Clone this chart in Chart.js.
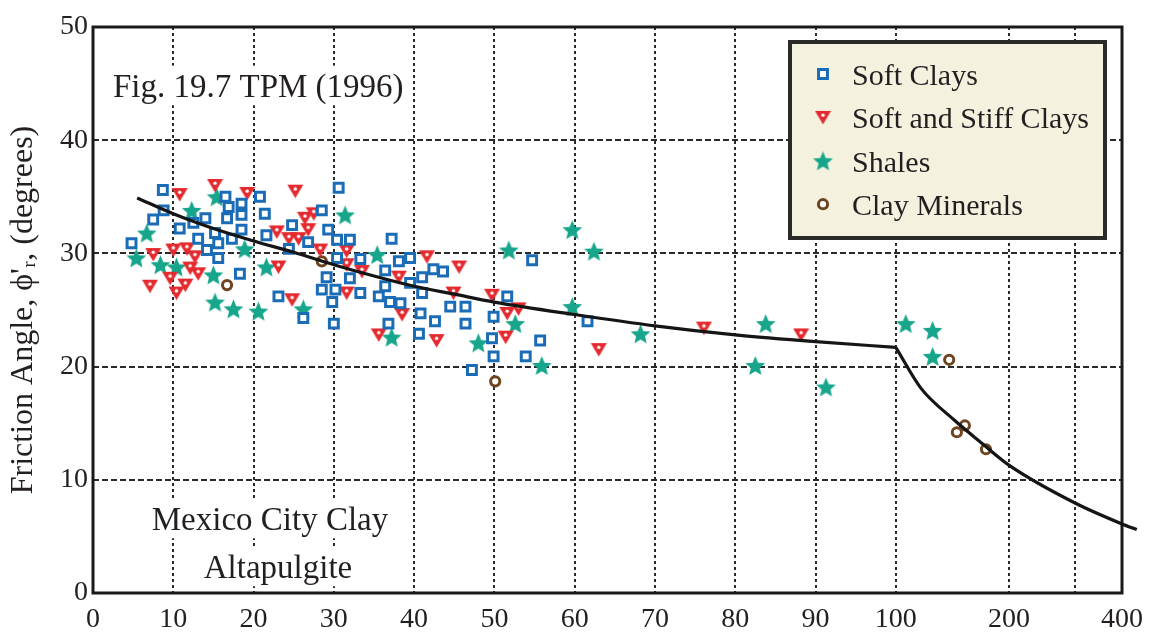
<!DOCTYPE html>
<html>
<head>
<meta charset="utf-8">
<script src="https://cdn.jsdelivr.net/npm/chart.js@4.4.0/dist/chart.umd.min.js"></script>
<style>
  html, body { margin: 0; padding: 0; background: #fff; }
</style>
</head>
<body>
<canvas id="theChart" width="1155" height="632"></canvas>
<script>
// --- data ---
const softClaysX = [8.7, 8.8, 7.5, 4.8, 10.8, 12.5, 14.0, 16.5, 16.9, 16.7, 15.2, 13.1, 15.6, 14.2, 15.6, 17.3,
  18.5, 18.5, 18.5, 20.8, 21.4, 21.6, 18.3, 24.8, 24.4, 26.8, 23.1, 26.2, 28.5, 30.6, 29.3, 30.4, 32.0, 30.4,
  29.1, 28.5, 30.2, 29.8, 30.0, 32.0, 33.3, 33.3, 37.2, 36.4, 38.1, 36.4, 35.6, 37.0, 38.3, 36.8, 39.5, 39.5,
  41.0, 41.0, 42.4, 43.6, 40.8, 40.6, 42.6, 44.5, 46.4, 46.4, 47.2, 54.7, 51.6, 49.9, 49.7, 49.9, 55.7, 53.9, 61.6]
const softClaysY = [35.6, 33.8, 33.0, 30.9, 32.2, 32.7, 33.1, 35.0, 34.1, 33.1, 31.8, 31.3, 30.9, 30.3, 29.6, 31.3,
  34.4, 33.4, 32.1, 35.0, 33.5, 31.6, 28.2, 32.5, 30.4, 31.0, 26.2, 24.3, 33.8, 35.8, 32.1, 31.2, 31.2, 29.6,
  27.9, 26.8, 26.8, 25.7, 23.8, 27.8, 29.5, 26.5, 31.3, 28.5, 29.3, 27.1, 26.2, 25.7, 25.6, 23.8, 29.6, 27.4,
  27.9, 26.5, 28.6, 28.4, 24.7, 22.9, 24.0, 25.3, 25.3, 23.8, 19.7, 29.4, 26.2, 24.4, 22.5, 20.9, 22.3, 20.9, 24.0]

const stiffClaysX = [7.1, 7.5, 10.8, 15.2, 10.0, 11.7, 12.7, 9.6, 11.5, 10.4, 12.1, 13.1, 19.2, 25.2, 22.9, 24.4,
  25.6, 26.4, 27.5, 26.8, 23.1, 24.8, 28.3, 31.6, 31.6, 31.6, 33.5, 38.1, 38.5, 35.6, 41.6, 45.6, 44.9, 42.8,
  49.7, 51.6, 53.0, 51.4, 63.0, 76.1, 88.2]
const stiffClaysY = [27.1, 29.9, 35.2, 36.0, 30.3, 30.4, 29.7, 27.8, 27.2, 26.5, 28.7, 28.2, 35.3, 35.5, 31.9, 31.3,
  31.3, 33.1, 33.5, 32.1, 28.8, 25.9, 30.3, 30.2, 29.0, 26.5, 28.4, 27.9, 24.6, 22.8, 29.7, 28.8, 26.5, 22.3,
  26.3, 24.7, 25.1, 22.6, 21.5, 23.4, 22.8]

const shalesX = [5.4, 6.7, 8.4, 10.4, 12.3, 15.4, 15.0, 15.2, 17.5, 20.6, 18.9, 21.6, 26.2, 31.4, 35.4, 37.2,
  51.8, 48.0, 52.6, 55.9, 59.7, 59.7, 62.4, 68.2, 83.8, 82.5, 91.3, 106.3, 125.3, 125.3]
const shalesY = [29.6, 31.8, 29.0, 28.8, 33.8, 35.0, 28.1, 25.7, 25.1, 24.9, 30.4, 28.8, 25.1, 33.4, 29.9, 22.6,
  30.3, 22.1, 23.8, 20.1, 32.1, 25.3, 30.2, 22.9, 23.8, 20.1, 18.2, 23.8, 23.2, 20.9]

const mineralsX = [16.7, 28.5, 50.1, 138.7, 145.4, 152.7, 173.8]
const mineralsY = [27.2, 29.3, 18.7, 20.6, 14.2, 14.8, 12.7]

// trend curve, two branches meeting at 100
const trendLowX = [5.5, 10, 15, 20, 25, 30, 35, 40, 45, 50, 60, 70, 80, 90, 100]
const trendLowY = [34.9, 33.5, 32.2, 31.1, 30.1, 29.0, 28.0, 27.1, 26.4, 25.7, 24.6, 23.6, 22.8, 22.2, 21.7]
const trendHighX = [100, 116.6, 142.8, 168.5, 200, 300, 400, 438]
const trendHighY = [21.7, 18.1, 15.3, 13.3, 11.3, 7.95, 6.1, 5.6]

const xTicks = [0, 10, 20, 30, 40, 50, 60, 70, 80, 90, 100, 200, 300, 400]
const xTickLabels = ['0', '10', '20', '30', '40', '50', '60', '70', '80', '90', '100', '200', '', '400']
const X_MIN = 0
const X_MAX = 400

const BLUE = '#1b6cb7'
const RED = '#e42a2f'
const TEAL = '#17a68b'
const BROWN = '#6e4520'
const INK = '#231f20'
const SERIF = '"Liberation Serif", "Times New Roman", serif'

const pairs = (xs, ys) => xs.map((x, i) => ({ x: x, y: ys[i] }))

// x axis: linear up to 100, then logarithmic
const BREAK = 100
const DECADE = 46.8
const toLin = v => v <= BREAK ? v : BREAK + DECADE * Math.log10(v / BREAK)
const fromLin = t => t <= BREAK ? t : BREAK * Math.pow(10, (t - BREAK) / DECADE)

class SplitScale extends Chart.LinearScale {
  determineDataLimits() {
    this.min = X_MIN
    this.max = X_MAX
  }
  buildTicks() {
    return xTicks.map(v => ({ value: v }))
  }
  getPixelForValue(v) {
    if (v === null || isNaN(v)) return NaN
    const a = toLin(this.min), b = toLin(this.max)
    return this.getPixelForDecimal((toLin(v) - a) / (b - a))
  }
  getValueForPixel(p) {
    const a = toLin(this.min), b = toLin(this.max)
    return fromLin(a + this.getDecimalForPixel(p) * (b - a))
  }
}
SplitScale.id = 'split'
SplitScale.defaults = {}
Chart.register(SplitScale)

// marker images
function triangleImg(color) {
  const c = document.createElement('canvas')
  c.width = 17; c.height = 15
  const g = c.getContext('2d')
  g.fillStyle = color
  g.beginPath(); g.moveTo(0.5, 1); g.lineTo(16.5, 1); g.lineTo(8.5, 14.5); g.closePath(); g.fill()
  g.fillStyle = '#fff'
  g.beginPath(); g.arc(8.5, 5.3, 1.7, 0, Math.PI * 2); g.fill()
  return c
}
function starImg(color, r) {
  const s = Math.ceil(r * 2 + 2)
  const c = document.createElement('canvas')
  c.width = s; c.height = s
  const g = c.getContext('2d')
  g.fillStyle = color
  g.beginPath()
  for (let i = 0; i < 10; i++) {
    const a = -Math.PI / 2 + i * Math.PI / 5
    const rr = i % 2 ? r * 0.45 : r
    g.lineTo(s / 2 + rr * Math.cos(a), s / 2 + 1 + rr * Math.sin(a))
  }
  g.closePath(); g.fill()
  return c
}
const triImg = triangleImg(RED)
const shaleImg = starImg(TEAL, 10.4)

// texts in the plot
const notes = [
  { text: 'Fig. 19.7 TPM (1996)', x: 113, y: 97, align: 'left', size: 33 },
  { text: 'Mexico City Clay', x: 270, y: 530, align: 'center', size: 33 },
  { text: 'Altapulgite', x: 278, y: 578, align: 'center', size: 33 }
]

const framePlugin = {
  id: 'frame',
  beforeDatasetsDraw(chart) {
    const c = chart.ctx, a = chart.chartArea
    c.save()
    notes.forEach(n => {
      c.font = n.size + 'px ' + SERIF
      const w = c.measureText(n.text).width
      const left = n.align === 'center' ? n.x - w / 2 : n.x
      c.fillStyle = '#fff'
      c.fillRect(left - 3, n.y - n.size * 0.95, w + 6, n.size * 1.2)
      c.fillStyle = INK
      c.textAlign = n.align
      c.textBaseline = 'alphabetic'
      c.fillText(n.text, n.x, n.y)
    })
    c.strokeStyle = '#1a1a1a'
    c.lineWidth = 3
    c.strokeRect(a.left, a.top, a.right - a.left, a.bottom - a.top)
    c.restore()
  }
}

const legendPlugin = {
  id: 'boxLegend',
  afterDatasetsDraw(chart) {
    const c = chart.ctx
    c.save()
    c.fillStyle = '#f4f1de'
    c.fillRect(790, 42, 315, 196)
    c.strokeStyle = '#2a2a2a'
    c.lineWidth = 4
    c.strokeRect(790, 42, 315, 196)
    const sets = chart.data.datasets.filter(ds => !ds.isTrend)
    sets.forEach((ds, i) => {
      const base = 85 + i * 43.4
      const mx = 823, my = base - 11
      if (typeof ds.pointStyle === 'object') {
        c.drawImage(ds.pointStyle, mx - ds.pointStyle.width / 2, my - ds.pointStyle.height / 2)
      } else {
        c.fillStyle = '#fff'
        c.strokeStyle = ds.borderColor
        c.lineWidth = ds.borderWidth
        c.beginPath()
        if (ds.pointStyle === 'rect') {
          const h = ds.pointRadius * Math.SQRT1_2
          c.rect(mx - h, my - h, 2 * h, 2 * h)
        } else {
          c.arc(mx, my, ds.pointRadius, 0, Math.PI * 2)
        }
        c.fill(); c.stroke()
      }
      c.fillStyle = INK
      c.font = '30px ' + SERIF
      c.textAlign = 'left'
      c.textBaseline = 'alphabetic'
      c.fillText(ds.label, 852, base)
    })
    c.restore()
  }
}

const trendStyle = {
  isTrend: true,
  showLine: true,
  pointRadius: 0,
  borderColor: '#151515',
  borderWidth: 3.2,
  cubicInterpolationMode: 'monotone',
  clip: false
}

const ctx = document.getElementById('theChart')
new Chart(ctx, {
  type: 'scatter',
  data: {
    datasets: [
      Object.assign({ label: 'Trend up to 100', data: pairs(trendLowX, trendLowY) }, trendStyle),
      Object.assign({ label: 'Trend above 100', data: pairs(trendHighX, trendHighY) }, trendStyle),
      {
        label: 'Soft Clays',
        data: pairs(softClaysX, softClaysY),
        pointStyle: 'rect',
        pointRadius: 6.3,
        borderWidth: 3,
        borderColor: BLUE,
        backgroundColor: '#fff'
      },
      {
        label: 'Soft and Stiff Clays',
        data: pairs(stiffClaysX, stiffClaysY),
        pointStyle: triImg,
        pointRadius: 8,
        borderColor: RED,
        backgroundColor: RED
      },
      {
        label: 'Shales',
        data: pairs(shalesX, shalesY),
        pointStyle: shaleImg,
        pointRadius: 8,
        borderColor: TEAL,
        backgroundColor: TEAL
      },
      {
        label: 'Clay Minerals',
        data: pairs(mineralsX, mineralsY),
        pointStyle: 'circle',
        pointRadius: 4.6,
        borderWidth: 3,
        borderColor: BROWN,
        backgroundColor: '#fff'
      }
    ]
  },
  options: {
    responsive: false,
    animation: false,
    layout: { padding: { top: 27, right: 33, left: 0, bottom: 0 } },
    plugins: {
      legend: { display: false },
      tooltip: { enabled: false }
    },
    scales: {
      x: {
        type: 'split',
        afterFit: s => { s.height = 39 },
        grid: { color: '#2a2a2a', lineWidth: 2, drawTicks: false },
        border: { display: false, dash: [3, 3] },
        ticks: {
          autoSkip: false,
          maxRotation: 0,
          padding: 10,
          color: INK,
          font: { family: SERIF, size: 28 },
          callback: (v, i) => xTickLabels[i]
        }
      },
      y: {
        min: 0,
        max: 50,
        afterFit: s => { s.width = 93 },
        grid: { color: '#2a2a2a', lineWidth: 2, drawTicks: false },
        border: { display: false, dash: [6, 3] },
        ticks: {
          stepSize: 10,
          padding: 5,
          color: INK,
          font: { family: SERIF, size: 28 }
        },
        title: {
          display: true,
          text: "Friction Angle, \u03d5'\u1d63, (degrees)",
          color: INK,
          font: { family: SERIF, size: 32 },
          padding: { top: 4, bottom: 0 }
        }
      }
    }
  },
  plugins: [framePlugin, legendPlugin]
})
</script>
</body>
</html>
